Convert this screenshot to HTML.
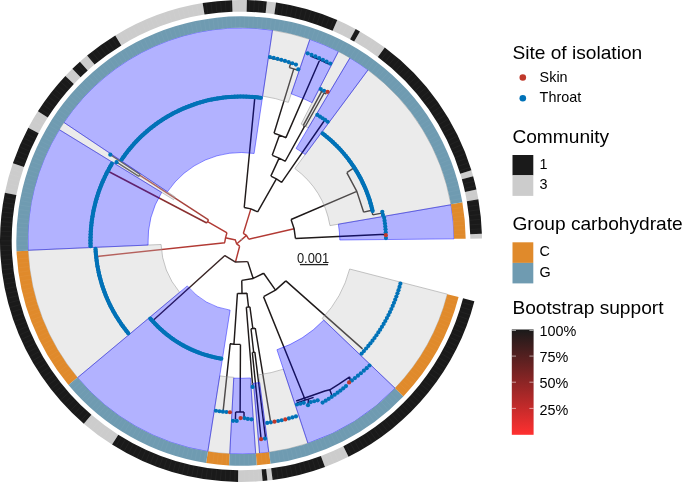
<!DOCTYPE html>
<html lang="en"><head><meta charset="utf-8"><title>Phylogenetic tree</title><style>html,body{margin:0;padding:0;background:#fff}svg{display:block}</style></head><body>
<svg width="685" height="482" viewBox="0 0 685 482">
<rect width="685" height="482" fill="#fff"/>
<g fill="none" stroke-width="1.45" stroke-linecap="butt" stroke-linejoin="round">
<path stroke="#b23a34" d="M236.56 244.07L246.54 235.37M243.32 233.45L246.47 235.44L248.7 239.24M243.32 233.45L250.88 208.89M248.7 239.24L294.12 228.83M235.21 239.87L236.72 243.95L239.65 246.12M235.71 239.92L225.22 237.79M226.91 232.8L225.52 237.85L224.69 242.74M227.09 232.9L207.55 221.53M224.99 242.71L96.82 256.41M239.63 246.22L235.49 261.99"/>
<path stroke="#8c8c8c" d="M240.95 240.24L242.34 239.02"/>
<path stroke="#1f1a1a" d="M257.65 211.81L250.88 208.89L244.22 207.55M244.22 207.55L254.71 98.66M257.65 211.81L276.38 178.98M281.65 182.3L276.38 178.98L270.84 176.13M281.65 182.3L324.11 120.97M270.84 176.13L279.11 158.14M285.49 161.39L279.11 158.14L272.34 155.35M285.21 161.23L304.51 126.42M305.11 126.76A131 131 0 0 0 303.21 125.71M303.21 125.71L321.73 91.39M305.11 126.76L324.2 92.75M326.39 94A170 170 0 0 0 324.2 92.75M323.24 92.21A170 170 0 0 0 320.02 90.48M272.19 155.3L279.55 135.1M286.12 137.73L279.55 135.1L274.04 133.25M285.94 137.65L319.79 59.79M328.86 64.01A197.6 197.6 0 0 0 310.52 56.03M274.04 133.25L293.78 68.91M297.97 70.25A180 180 0 0 0 289.41 67.63M289.41 67.63L290.83 62.53M296.1 64.08A185.3 185.3 0 0 0 269.8 57.95M295.44 238.43L294.12 228.83L291.06 219.44M295.44 238.43L385.84 234.17M385.99 238.98A145 145 0 0 0 384.13 217.82M291.09 219.53L356.81 191.36M363.67 212.23L356.81 191.36L346.79 172.56M346.79 172.56L353.93 167.94M363.65 212.12L371.82 210.2M372.74 214.91A134.3 134.3 0 0 0 371.7 210.1M372.74 214.91L381.77 213.13M372.35 210.68A134.8 134.8 0 0 0 322.5 133.63M247.71 261.64L253.18 278.47M241.76 280.39L253.18 278.47L263.66 273.24M263.66 273.24L275.5 290.09M263.57 296.59L275.5 290.09L285.87 280.84M285.87 280.84L362.52 348.89M263.48 296.63L305.06 399.55M241.76 280.39L242.01 293.49M237.52 293.38L242.01 293.49L246.94 293.16M237.43 293.38L233.97 344.16M230.01 343.81L233.97 344.16L240.37 344.4M230.19 343.83L223.07 411.56M240.46 344.4L240.1 412M235.63 411.92A171 171 0 0 0 243.98 411.97M235.63 411.92L235.41 418.91M243.98 411.97L244.08 417.27M246.94 293.16L248.53 307.07M246.33 307.29A66.5 66.5 0 0 0 249.91 306.9M246.33 307.29L252.71 386.53M249.91 306.9L252.83 328.5M251 328.73A88.3 88.3 0 0 0 255.12 328.16M251 328.73L253.68 352.28M252.32 352.43A112 112 0 0 0 254.84 352.14M252.32 352.43L261.01 437.99M254.84 352.14L265.47 437.48M255.27 328.14L270.57 421.59M296.2 401L312.8 395.3L324.8 391L329.8 389.8L338.5 384.3L349.7 376.8M296.9 402.9L313.6 397.4M329.8 389.8L331.8 395.3M349.7 376.8L350.3 381.1M308.6 398.9L307.9 404.5"/>
<path stroke="#b03c34" d="M208.54 219.92A38.7 38.7 0 0 0 206.74 223.01"/>
<path stroke="#a8433c" d="M208.54 219.92L139.6 175.15"/>
<path stroke="#444" d="M140.11 174.38A120.9 120.9 0 0 0 138.84 176.34M140.11 174.38L110.32 154.7M138.84 176.34L116.53 162.22"/>
<path stroke="#8a3030" d="M206.74 223.01L109.08 171.74"/>
<path stroke="#3a2626" d="M224.9 255.55L235.47 262.09L247.71 261.64M224.9 255.55L153.82 319.78"/>
</g>
<path d="M450.99 204.73A213.1 213.1 0 0 0 368.06 69.92L294.84 168.51A90.3 90.3 0 0 1 329.98 225.63ZM349.96 57.86A213.1 213.1 0 0 0 338.41 51.47L301.11 124.04A131.5 131.5 0 0 1 308.24 127.99ZM309.85 39.33A213.1 213.1 0 0 0 272.5 30.24L262.65 96.11A146.5 146.5 0 0 1 288.33 102.36ZM63.92 122.45A213.1 213.1 0 0 0 59.3 129.66L173.64 199.72A79 79 0 0 1 175.35 197.05ZM28.1 250.3A213.1 213.1 0 0 0 77.52 377.69L179.63 292.32A80 80 0 0 1 161.08 244.49ZM207.85 451.51A213.1 213.1 0 0 0 229.74 453.8L233.78 377.31A136.5 136.5 0 0 1 219.76 375.84ZM255.68 453.59A213.1 213.1 0 0 0 259.57 453.29L253.46 383.46A143 143 0 0 1 250.85 383.66ZM268.82 452.28A213.1 213.1 0 0 0 307.91 443.32L283.39 369.17A135 135 0 0 1 258.62 374.85ZM395.06 388.23A213.1 213.1 0 0 0 447.36 294.18L349.65 269A112.2 112.2 0 0 1 322.12 318.52Z" fill="rgb(190,190,190)" fill-opacity="0.3" stroke="#999999" stroke-opacity="0.8" stroke-width="0.7"/>
<path d="M454.09 238.86A213.1 213.1 0 0 0 450.99 204.73L338.36 224.18A98.8 98.8 0 0 1 339.8 240.01ZM368.06 69.92A213.1 213.1 0 0 0 349.96 57.86L296.07 148.44A107.7 107.7 0 0 1 305.21 154.54ZM338.41 51.47A213.1 213.1 0 0 0 309.85 39.33L291.24 93.84A155.5 155.5 0 0 1 312.08 102.7ZM272.5 30.24A213.1 213.1 0 0 0 63.92 122.45L167.46 191.77A88.5 88.5 0 0 1 254.08 153.47ZM59.3 129.66A213.1 213.1 0 0 0 28.1 250.3L148.09 245.06A93 93 0 0 1 161.7 192.41ZM77.52 377.69A213.1 213.1 0 0 0 207.85 451.51L230.11 310.15A70 70 0 0 1 187.3 285.9ZM229.74 453.8A213.1 213.1 0 0 0 255.68 453.59L250.46 377.97A137.3 137.3 0 0 1 233.74 378.11ZM259.57 453.29A213.1 213.1 0 0 0 268.82 452.28L259.64 382.58A142.8 142.8 0 0 1 253.45 383.26ZM307.91 443.32A213.1 213.1 0 0 0 395.06 388.23L323.78 320.11A114.5 114.5 0 0 1 276.95 349.71Z" fill="#0000ff" fill-opacity="0.3" stroke="#0000ff" stroke-opacity="0.55" stroke-width="0.8"/>
<path d="M372.65 211.09A135 135 0 0 0 322.62 133.47M260.86 97.87A144.5 144.5 0 0 0 121.63 159.57M111.86 163.71A150.5 150.5 0 0 0 90.59 246.25M95.51 248.88A145.7 145.7 0 0 0 128.25 333.28M150.28 318.48A119.3 119.3 0 0 0 221.31 358.66" fill="none" stroke="#0a6ea9" stroke-width="4"/>
<g fill="#0072b8"><circle cx="385.97" cy="238.09" r="2.1"/><circle cx="385.74" cy="232.27" r="2.1"/><circle cx="385.53" cy="229.37" r="2.1"/><circle cx="385.27" cy="226.47" r="2.1"/><circle cx="384.95" cy="223.58" r="2.1"/><circle cx="384.57" cy="220.69" r="2.1"/><circle cx="384.13" cy="217.82" r="2.1"/><circle cx="382.93" cy="214.95" r="2.1"/><circle cx="382.3" cy="211.74" r="2.1"/><circle cx="372.65" cy="211.09" r="2.1"/><circle cx="372.02" cy="208.47" r="2.1"/><circle cx="371.35" cy="205.86" r="2.1"/><circle cx="370.62" cy="203.27" r="2.1"/><circle cx="369.84" cy="200.69" r="2.1"/><circle cx="369.01" cy="198.13" r="2.1"/><circle cx="368.13" cy="195.59" r="2.1"/><circle cx="367.2" cy="193.06" r="2.1"/><circle cx="366.22" cy="190.55" r="2.1"/><circle cx="365.19" cy="188.07" r="2.1"/><circle cx="364.11" cy="185.6" r="2.1"/><circle cx="362.98" cy="183.15" r="2.1"/><circle cx="361.8" cy="180.73" r="2.1"/><circle cx="360.58" cy="178.34" r="2.1"/><circle cx="359.3" cy="175.96" r="2.1"/><circle cx="357.98" cy="173.62" r="2.1"/><circle cx="356.61" cy="171.3" r="2.1"/><circle cx="355.2" cy="169" r="2.1"/><circle cx="353.74" cy="166.74" r="2.1"/><circle cx="352.24" cy="164.51" r="2.1"/><circle cx="350.69" cy="162.3" r="2.1"/><circle cx="349.1" cy="160.13" r="2.1"/><circle cx="347.46" cy="157.99" r="2.1"/><circle cx="345.79" cy="155.88" r="2.1"/><circle cx="344.07" cy="153.81" r="2.1"/><circle cx="342.31" cy="151.77" r="2.1"/><circle cx="340.51" cy="149.77" r="2.1"/><circle cx="338.67" cy="147.8" r="2.1"/><circle cx="336.79" cy="145.87" r="2.1"/><circle cx="334.88" cy="143.98" r="2.1"/><circle cx="332.92" cy="142.13" r="2.1"/><circle cx="330.93" cy="140.32" r="2.1"/><circle cx="328.91" cy="138.54" r="2.1"/><circle cx="326.84" cy="136.81" r="2.1"/><circle cx="324.75" cy="135.12" r="2.1"/><circle cx="322.62" cy="133.47" r="2.1"/><circle cx="327.64" cy="121.75" r="2.1"/><circle cx="325.12" cy="119.96" r="2.1"/><circle cx="322.57" cy="118.23" r="2.1"/><circle cx="319.98" cy="116.55" r="2.1"/><circle cx="317.36" cy="114.92" r="2.1"/><circle cx="324.06" cy="90.73" r="2.1"/><circle cx="320.77" cy="89.07" r="2.1"/><circle cx="330.23" cy="63.58" r="2.1"/><circle cx="326.57" cy="61.67" r="2.1"/><circle cx="322.86" cy="59.84" r="2.1"/><circle cx="319.12" cy="58.08" r="2.1"/><circle cx="315.33" cy="56.4" r="2.1"/><circle cx="311.51" cy="54.8" r="2.1"/><circle cx="307.66" cy="53.28" r="2.1"/><circle cx="298.28" cy="69.3" r="2.1"/><circle cx="295.95" cy="64.56" r="2.1"/><circle cx="292.32" cy="63.26" r="2.1"/><circle cx="288.66" cy="62.04" r="2.1"/><circle cx="284.96" cy="60.89" r="2.1"/><circle cx="281.24" cy="59.82" r="2.1"/><circle cx="277.5" cy="58.82" r="2.1"/><circle cx="273.73" cy="57.9" r="2.1"/><circle cx="269.94" cy="57.06" r="2.1"/><circle cx="260.86" cy="97.87" r="2.1"/><circle cx="257.97" cy="97.5" r="2.1"/><circle cx="255.07" cy="97.19" r="2.1"/><circle cx="252.16" cy="96.93" r="2.1"/><circle cx="249.25" cy="96.74" r="2.1"/><circle cx="246.34" cy="96.6" r="2.1"/><circle cx="243.43" cy="96.52" r="2.1"/><circle cx="240.51" cy="96.5" r="2.1"/><circle cx="237.59" cy="96.54" r="2.1"/><circle cx="234.68" cy="96.64" r="2.1"/><circle cx="231.77" cy="96.8" r="2.1"/><circle cx="228.86" cy="97.01" r="2.1"/><circle cx="225.95" cy="97.29" r="2.1"/><circle cx="223.06" cy="97.62" r="2.1"/><circle cx="220.17" cy="98.01" r="2.1"/><circle cx="217.29" cy="98.46" r="2.1"/><circle cx="214.41" cy="98.97" r="2.1"/><circle cx="211.55" cy="99.53" r="2.1"/><circle cx="208.7" cy="100.16" r="2.1"/><circle cx="205.87" cy="100.84" r="2.1"/><circle cx="203.05" cy="101.57" r="2.1"/><circle cx="200.24" cy="102.37" r="2.1"/><circle cx="197.45" cy="103.22" r="2.1"/><circle cx="194.68" cy="104.13" r="2.1"/><circle cx="191.93" cy="105.09" r="2.1"/><circle cx="189.19" cy="106.11" r="2.1"/><circle cx="186.48" cy="107.18" r="2.1"/><circle cx="183.79" cy="108.31" r="2.1"/><circle cx="181.13" cy="109.49" r="2.1"/><circle cx="178.49" cy="110.72" r="2.1"/><circle cx="175.87" cy="112.01" r="2.1"/><circle cx="173.28" cy="113.35" r="2.1"/><circle cx="170.72" cy="114.74" r="2.1"/><circle cx="168.18" cy="116.19" r="2.1"/><circle cx="165.68" cy="117.68" r="2.1"/><circle cx="163.21" cy="119.23" r="2.1"/><circle cx="160.76" cy="120.82" r="2.1"/><circle cx="158.36" cy="122.47" r="2.1"/><circle cx="155.98" cy="124.16" r="2.1"/><circle cx="153.64" cy="125.9" r="2.1"/><circle cx="151.33" cy="127.69" r="2.1"/><circle cx="149.07" cy="129.52" r="2.1"/><circle cx="146.83" cy="131.4" r="2.1"/><circle cx="144.64" cy="133.32" r="2.1"/><circle cx="142.49" cy="135.28" r="2.1"/><circle cx="140.37" cy="137.29" r="2.1"/><circle cx="138.3" cy="139.35" r="2.1"/><circle cx="136.27" cy="141.44" r="2.1"/><circle cx="134.28" cy="143.57" r="2.1"/><circle cx="132.34" cy="145.75" r="2.1"/><circle cx="130.44" cy="147.96" r="2.1"/><circle cx="128.58" cy="150.21" r="2.1"/><circle cx="126.77" cy="152.5" r="2.1"/><circle cx="125.01" cy="154.82" r="2.1"/><circle cx="123.3" cy="157.18" r="2.1"/><circle cx="121.63" cy="159.57" r="2.1"/><circle cx="110.32" cy="154.7" r="2.1"/><circle cx="116.53" cy="162.22" r="2.1"/><circle cx="111.86" cy="163.71" r="2.1"/><circle cx="110.36" cy="166.28" r="2.1"/><circle cx="108.9" cy="168.89" r="2.1"/><circle cx="107.5" cy="171.51" r="2.1"/><circle cx="106.15" cy="174.17" r="2.1"/><circle cx="104.85" cy="176.85" r="2.1"/><circle cx="103.61" cy="179.56" r="2.1"/><circle cx="102.42" cy="182.3" r="2.1"/><circle cx="101.29" cy="185.05" r="2.1"/><circle cx="100.21" cy="187.83" r="2.1"/><circle cx="99.18" cy="190.63" r="2.1"/><circle cx="98.21" cy="193.44" r="2.1"/><circle cx="97.3" cy="196.28" r="2.1"/><circle cx="96.44" cy="199.13" r="2.1"/><circle cx="95.64" cy="202" r="2.1"/><circle cx="94.9" cy="204.89" r="2.1"/><circle cx="94.21" cy="207.79" r="2.1"/><circle cx="93.58" cy="210.7" r="2.1"/><circle cx="93.01" cy="213.63" r="2.1"/><circle cx="92.5" cy="216.56" r="2.1"/><circle cx="92.04" cy="219.51" r="2.1"/><circle cx="91.65" cy="222.46" r="2.1"/><circle cx="91.31" cy="225.42" r="2.1"/><circle cx="91.03" cy="228.39" r="2.1"/><circle cx="90.81" cy="231.36" r="2.1"/><circle cx="90.65" cy="234.34" r="2.1"/><circle cx="90.55" cy="237.31" r="2.1"/><circle cx="90.5" cy="240.29" r="2.1"/><circle cx="90.52" cy="243.27" r="2.1"/><circle cx="90.59" cy="246.25" r="2.1"/><circle cx="95.51" cy="248.88" r="2.1"/><circle cx="95.7" cy="251.84" r="2.1"/><circle cx="95.96" cy="254.8" r="2.1"/><circle cx="96.27" cy="257.75" r="2.1"/><circle cx="96.64" cy="260.7" r="2.1"/><circle cx="97.07" cy="263.64" r="2.1"/><circle cx="97.56" cy="266.57" r="2.1"/><circle cx="98.11" cy="269.48" r="2.1"/><circle cx="98.72" cy="272.39" r="2.1"/><circle cx="99.39" cy="275.28" r="2.1"/><circle cx="100.12" cy="278.16" r="2.1"/><circle cx="100.91" cy="281.03" r="2.1"/><circle cx="101.75" cy="283.87" r="2.1"/><circle cx="102.65" cy="286.7" r="2.1"/><circle cx="103.61" cy="289.51" r="2.1"/><circle cx="104.63" cy="292.3" r="2.1"/><circle cx="105.7" cy="295.07" r="2.1"/><circle cx="106.83" cy="297.82" r="2.1"/><circle cx="108.02" cy="300.54" r="2.1"/><circle cx="109.26" cy="303.24" r="2.1"/><circle cx="110.56" cy="305.91" r="2.1"/><circle cx="111.91" cy="308.55" r="2.1"/><circle cx="113.31" cy="311.17" r="2.1"/><circle cx="114.77" cy="313.76" r="2.1"/><circle cx="116.28" cy="316.32" r="2.1"/><circle cx="117.84" cy="318.84" r="2.1"/><circle cx="119.45" cy="321.34" r="2.1"/><circle cx="121.11" cy="323.8" r="2.1"/><circle cx="122.82" cy="326.22" r="2.1"/><circle cx="124.58" cy="328.61" r="2.1"/><circle cx="126.39" cy="330.97" r="2.1"/><circle cx="128.25" cy="333.28" r="2.1"/><circle cx="150.28" cy="318.48" r="2.1"/><circle cx="151.85" cy="320.27" r="2.1"/><circle cx="153.45" cy="322.04" r="2.1"/><circle cx="155.08" cy="323.77" r="2.1"/><circle cx="156.75" cy="325.46" r="2.1"/><circle cx="158.45" cy="327.13" r="2.1"/><circle cx="160.18" cy="328.76" r="2.1"/><circle cx="161.95" cy="330.35" r="2.1"/><circle cx="163.75" cy="331.91" r="2.1"/><circle cx="165.58" cy="333.43" r="2.1"/><circle cx="167.43" cy="334.92" r="2.1"/><circle cx="169.32" cy="336.37" r="2.1"/><circle cx="171.24" cy="337.78" r="2.1"/><circle cx="173.18" cy="339.15" r="2.1"/><circle cx="175.15" cy="340.48" r="2.1"/><circle cx="177.15" cy="341.78" r="2.1"/><circle cx="179.17" cy="343.03" r="2.1"/><circle cx="181.22" cy="344.24" r="2.1"/><circle cx="183.29" cy="345.41" r="2.1"/><circle cx="185.39" cy="346.54" r="2.1"/><circle cx="187.5" cy="347.63" r="2.1"/><circle cx="189.64" cy="348.68" r="2.1"/><circle cx="191.8" cy="349.68" r="2.1"/><circle cx="193.98" cy="350.64" r="2.1"/><circle cx="196.17" cy="351.56" r="2.1"/><circle cx="198.39" cy="352.43" r="2.1"/><circle cx="200.62" cy="353.26" r="2.1"/><circle cx="202.86" cy="354.04" r="2.1"/><circle cx="205.13" cy="354.78" r="2.1"/><circle cx="207.4" cy="355.47" r="2.1"/><circle cx="209.69" cy="356.12" r="2.1"/><circle cx="211.99" cy="356.72" r="2.1"/><circle cx="214.31" cy="357.28" r="2.1"/><circle cx="216.63" cy="357.78" r="2.1"/><circle cx="218.97" cy="358.25" r="2.1"/><circle cx="221.31" cy="358.66" r="2.1"/><circle cx="215.93" cy="410.76" r="2.1"/><circle cx="219.42" cy="411.24" r="2.1"/><circle cx="222.91" cy="411.64" r="2.1"/><circle cx="226.42" cy="411.98" r="2.1"/><circle cx="233.09" cy="420.83" r="2.1"/><circle cx="236.7" cy="420.95" r="2.1"/><circle cx="244.4" cy="418.07" r="2.1"/><circle cx="247.84" cy="418.97" r="2.1"/><circle cx="251.47" cy="419.29" r="2.1"/><circle cx="252.61" cy="386.94" r="2.1"/><circle cx="265.01" cy="438.55" r="2.1"/><circle cx="267.22" cy="422.92" r="2.1"/><circle cx="270.86" cy="422.36" r="2.1"/><circle cx="278.12" cy="421.01" r="2.1"/><circle cx="281.72" cy="420.23" r="2.1"/><circle cx="288.88" cy="418.45" r="2.1"/><circle cx="292.43" cy="417.46" r="2.1"/><circle cx="295.96" cy="416.39" r="2.1"/><circle cx="296.97" cy="404.48" r="2.1"/><circle cx="300.38" cy="403.7" r="2.1"/><circle cx="303.78" cy="402.85" r="2.1"/><circle cx="307.99" cy="405.16" r="2.1"/><circle cx="310.7" cy="402.07" r="2.1"/><circle cx="314.19" cy="401.23" r="2.1"/><circle cx="317.67" cy="400.31" r="2.1"/><circle cx="322.61" cy="402.56" r="2.1"/><circle cx="325.69" cy="400.7" r="2.1"/><circle cx="328.73" cy="398.78" r="2.1"/><circle cx="331.72" cy="396.8" r="2.1"/><circle cx="334.67" cy="394.76" r="2.1"/><circle cx="337.58" cy="392.67" r="2.1"/><circle cx="340.44" cy="390.53" r="2.1"/><circle cx="343.25" cy="388.33" r="2.1"/><circle cx="346.02" cy="386.08" r="2.1"/><circle cx="351.87" cy="380.38" r="2.1"/><circle cx="354.93" cy="378.07" r="2.1"/><circle cx="357.94" cy="375.68" r="2.1"/><circle cx="360.9" cy="373.23" r="2.1"/><circle cx="363.81" cy="370.72" r="2.1"/><circle cx="366.67" cy="368.14" r="2.1"/><circle cx="369.47" cy="365.5" r="2.1"/><circle cx="361.67" cy="353.53" r="2.1"/><circle cx="363.94" cy="351.05" r="2.1"/><circle cx="366.15" cy="348.52" r="2.1"/><circle cx="368.32" cy="345.95" r="2.1"/><circle cx="370.43" cy="343.34" r="2.1"/><circle cx="372.49" cy="340.68" r="2.1"/><circle cx="374.49" cy="337.98" r="2.1"/><circle cx="376.43" cy="335.25" r="2.1"/><circle cx="378.33" cy="332.47" r="2.1"/><circle cx="380.16" cy="329.65" r="2.1"/><circle cx="381.94" cy="326.8" r="2.1"/><circle cx="383.65" cy="323.92" r="2.1"/><circle cx="385.31" cy="320.99" r="2.1"/><circle cx="386.91" cy="318.04" r="2.1"/><circle cx="388.45" cy="315.05" r="2.1"/><circle cx="389.93" cy="312.03" r="2.1"/><circle cx="391.34" cy="308.99" r="2.1"/><circle cx="392.7" cy="305.91" r="2.1"/><circle cx="393.99" cy="302.81" r="2.1"/><circle cx="395.21" cy="299.68" r="2.1"/><circle cx="396.37" cy="296.53" r="2.1"/><circle cx="397.47" cy="293.36" r="2.1"/><circle cx="398.51" cy="290.16" r="2.1"/><circle cx="399.48" cy="286.94" r="2.1"/><circle cx="400.38" cy="283.71" r="2.1"/></g>
<g fill="#c0392b"><circle cx="385.88" cy="235.18" r="2.1"/><circle cx="327.64" cy="91.84" r="2.1"/><circle cx="229.93" cy="412.24" r="2.1"/><circle cx="240.6" cy="418.1" r="2.1"/><circle cx="261.1" cy="439.18" r="2.1"/><circle cx="274.49" cy="421.72" r="2.1"/><circle cx="285.31" cy="419.38" r="2.1"/><circle cx="349.11" cy="382.41" r="2.1"/></g>
<path d="M465.69 238.75A224.7 224.7 0 0 0 462.35 202.37L450.93 204.36A213.1 213.1 0 0 1 454.09 238.86ZM16.53 251.19A224.7 224.7 0 0 0 68.49 384.98L77.4 377.55A213.1 213.1 0 0 1 28.12 250.67ZM206.12 462.98A224.7 224.7 0 0 0 229.12 465.39L229.74 453.8A213.1 213.1 0 0 1 207.92 451.52ZM256.67 465.15A224.7 224.7 0 0 0 270.56 463.75L269.04 452.25A213.1 213.1 0 0 1 255.87 453.58ZM403.32 396.38A224.7 224.7 0 0 0 458.59 297.07L447.36 294.18A213.1 213.1 0 0 1 394.94 388.36Z" fill="#e08a2b"/>
<path d="M462.35 202.37A224.7 224.7 0 0 0 16.53 251.19L28.12 250.67A213.1 213.1 0 0 1 450.93 204.36ZM68.49 384.98A224.7 224.7 0 0 0 206.12 462.98L207.92 451.52A213.1 213.1 0 0 1 77.4 377.55ZM229.12 465.39A224.7 224.7 0 0 0 256.67 465.15L255.87 453.58A213.1 213.1 0 0 1 229.74 453.8ZM270.56 463.75A224.7 224.7 0 0 0 403.32 396.38L394.94 388.36A213.1 213.1 0 0 1 269.04 452.25Z" fill="#6f9bb1"/>
<path d="M481.99 238.58A241 241 0 0 0 481.89 233.85L470.2 234.2A229.3 229.3 0 0 1 470.29 238.7ZM478.34 199.15A241 241 0 0 0 476.44 189.54L465.01 192.03A229.3 229.3 0 0 1 466.82 201.18ZM473.12 176.19A241 241 0 0 0 471.41 170.34L460.22 173.77A229.3 229.3 0 0 1 461.85 179.34ZM384.79 47.6A241 241 0 0 0 359.97 31.41L354.19 41.59A229.3 229.3 0 0 1 377.81 56.99ZM355.63 29A241 241 0 0 0 337.29 20.07L332.62 30.8A229.3 229.3 0 0 1 350.06 39.3ZM276.04 2.56A241 241 0 0 0 266.86 1.39L265.61 13.02A229.3 229.3 0 0 1 274.34 14.14ZM246.89 0.07A241 241 0 0 0 232.08 0.16L232.52 11.86A229.3 229.3 0 0 1 246.6 11.77ZM202.63 3.07A241 241 0 0 0 115.26 35.4L121.36 45.39A229.3 229.3 0 0 1 204.5 14.62ZM87.09 55.55A241 241 0 0 0 79.93 61.73L87.75 70.44A229.3 229.3 0 0 1 94.56 64.55ZM72.38 68.81A241 241 0 0 0 65.35 75.99L73.87 84A229.3 229.3 0 0 1 80.57 77.17ZM37.88 111.3A241 241 0 0 0 28.29 127.71L38.62 133.21A229.3 229.3 0 0 1 47.74 117.59ZM12.87 163.29A241 241 0 0 0 4.89 192.71L16.35 195.05A229.3 229.3 0 0 1 23.95 167.07ZM83.81 423.68A241 241 0 0 0 112.04 444.6L118.3 434.71A229.3 229.3 0 0 1 91.44 414.81ZM238.06 481.98A241 241 0 0 0 262.63 481.03L261.58 469.37A229.3 229.3 0 0 1 238.2 470.28ZM267.45 480.54A241 241 0 0 0 272.62 479.92L271.09 468.32A229.3 229.3 0 0 1 266.16 468.92ZM325.01 466.88A241 241 0 0 0 348.53 456.68L343.31 446.21A229.3 229.3 0 0 1 320.93 455.92Z" fill="#cccccc"/>
<path d="M481.89 233.85A241 241 0 0 0 478.34 199.15L466.82 201.18A229.3 229.3 0 0 1 470.2 234.2ZM476.44 189.54A241 241 0 0 0 473.12 176.19L461.85 179.34A229.3 229.3 0 0 1 465.01 192.03ZM471.41 170.34A241 241 0 0 0 384.79 47.6L377.81 56.99A229.3 229.3 0 0 1 460.22 173.77ZM359.97 31.41A241 241 0 0 0 355.63 29L350.06 39.3A229.3 229.3 0 0 1 354.19 41.59ZM337.29 20.07A241 241 0 0 0 276.04 2.56L274.34 14.14A229.3 229.3 0 0 1 332.62 30.8ZM266.86 1.39A241 241 0 0 0 246.89 0.07L246.6 11.77A229.3 229.3 0 0 1 265.61 13.02ZM232.08 0.16A241 241 0 0 0 202.63 3.07L204.5 14.62A229.3 229.3 0 0 1 232.52 11.86ZM115.26 35.4A241 241 0 0 0 87.09 55.55L94.56 64.55A229.3 229.3 0 0 1 121.36 45.39ZM79.93 61.73A241 241 0 0 0 72.38 68.81L80.57 77.17A229.3 229.3 0 0 1 87.75 70.44ZM65.35 75.99A241 241 0 0 0 37.88 111.3L47.74 117.59A229.3 229.3 0 0 1 73.87 84ZM28.29 127.71A241 241 0 0 0 12.87 163.29L23.95 167.07A229.3 229.3 0 0 1 38.62 133.21ZM4.89 192.71A241 241 0 0 0 83.81 423.68L91.44 414.81A229.3 229.3 0 0 1 16.35 195.05ZM112.04 444.6A241 241 0 0 0 238.06 481.98L238.2 470.28A229.3 229.3 0 0 1 118.3 434.71ZM262.63 481.03A241 241 0 0 0 267.45 480.54L266.16 468.92A229.3 229.3 0 0 1 261.58 469.37ZM272.62 479.92A241 241 0 0 0 325.01 466.88L320.93 455.92A229.3 229.3 0 0 1 271.09 468.32ZM348.53 456.68A241 241 0 0 0 474.38 301.14L463.05 298.22A229.3 229.3 0 0 1 343.31 446.21Z" fill="#1a1a1a"/>
<path d="M454.4 234.57L465.2 234.25M470.6 234.09L481.49 233.76M454.23 230.29L465.02 229.75M470.41 229.48L481.3 228.93M453.97 226.01L464.75 225.26M470.13 224.88L481.01 224.11M453.63 221.74L464.39 220.77M469.76 220.28L480.62 219.3M453.2 217.48L463.93 216.29M469.3 215.69L480.14 214.49M452.69 213.23L463.39 211.82M468.75 211.12L479.56 209.7M452.09 208.98L462.76 207.36M468.1 206.55L478.88 204.92M451.4 204.75L462.04 202.92M467.37 202L478.11 200.15M450.63 200.54L461.23 198.49M466.54 197.47L477.24 195.4M449.78 196.34L460.34 194.08M465.62 192.95L476.28 190.67M448.84 192.16L459.35 189.69M464.61 188.45L475.22 185.96M447.82 187.99L458.28 185.31M463.51 183.97L474.07 181.27M446.71 183.85L457.12 180.96M462.32 179.52L472.82 176.6M445.52 179.74L455.87 176.64M461.04 175.09L471.48 171.96M444.25 175.65L454.53 172.34M459.67 170.69L470.05 167.35M442.9 171.58L453.11 168.07M458.22 166.31L468.53 162.77M441.46 167.54L451.61 163.83M456.68 161.97L466.91 158.22M439.95 163.53L450.01 159.61M455.05 157.65L465.2 153.7M438.36 159.56L448.34 155.44M453.33 153.38L463.41 149.22M436.68 155.61L446.58 151.29M451.53 149.13L461.52 144.77M434.93 151.7L444.74 147.18M449.64 144.92L459.54 140.37M433.1 147.83L442.81 143.11M447.67 140.76L457.48 136M431.19 143.99L440.81 139.08M445.62 136.63L455.33 131.68M429.2 140.19L438.72 135.09M443.48 132.54L453.09 127.4M427.14 136.44L436.56 131.15M441.27 128.5L450.77 123.16M425.01 132.72L434.31 127.24M438.97 124.5L448.36 118.98M422.79 129.05L431.99 123.39M436.59 120.56L445.87 114.84M420.51 125.42L429.59 119.58M434.13 116.65L443.3 110.75M418.16 121.84L427.12 115.82M431.6 112.8L440.64 106.72M415.73 118.31L424.57 112.11M428.99 109L437.91 102.74M413.23 114.83L421.94 108.45M426.3 105.26L435.09 98.82M410.66 111.4L419.25 104.84M423.54 101.57L432.2 94.95M408.03 108.02L416.48 101.29M420.7 97.93L429.23 91.14M405.33 104.69L413.64 97.8M417.8 94.35L426.18 87.39M402.56 101.42L410.73 94.36M414.82 90.83L423.06 83.71M399.72 98.21L407.75 90.99M411.77 87.38L419.87 80.09M396.83 95.05L404.71 87.67M408.65 83.98L416.61 76.53M393.87 91.96L401.6 84.42M405.46 80.65L413.27 73.04M390.84 88.92L398.42 81.22M402.21 77.38L409.86 69.61M387.76 85.94L395.18 78.1M398.9 74.17L406.39 66.26M384.62 83.03L391.88 75.03M395.52 71.04L402.85 62.97M381.42 80.18L388.52 72.04M392.07 67.97L399.24 59.76M378.16 77.39L385.1 69.11M388.57 64.98L395.57 56.62M374.85 74.67L381.62 66.26M385.01 62.05L391.84 53.56M371.49 72.02L378.09 63.47M381.39 59.19L388.05 50.57M368.07 69.43L374.5 60.75M377.71 56.41L384.2 47.65M364.6 66.92L370.85 58.11M373.98 53.71L380.29 44.82M361.08 64.47L367.16 55.54M370.19 51.08L376.32 42.06M357.51 62.1L363.41 53.05M366.36 48.52L372.3 39.39M353.9 59.79L359.61 50.63M362.47 46.04L368.23 36.79M350.24 57.56L355.77 48.29M358.53 43.65L364.11 34.28M346.54 55.41L351.88 46.02M354.55 41.33L359.93 31.85M342.79 53.33L347.94 43.83M350.52 39.09L355.71 29.51M339 51.32L343.96 41.73M346.44 36.93L351.44 27.25M335.18 49.39L339.94 39.7M342.32 34.86L347.13 25.07M331.31 47.54L335.88 37.76M338.17 32.86L342.78 22.99M327.41 45.77L331.78 35.89M333.97 30.96L338.38 20.99M323.48 44.07L327.65 34.11M329.74 29.13L333.95 19.08M319.51 42.46L323.48 32.42M325.47 27.39L329.47 17.26M315.51 40.92L319.28 30.8M321.16 25.74L324.96 15.53M311.48 39.47L315.04 29.27M316.82 24.18L320.42 13.89M307.42 38.09L310.78 27.83M312.46 22.7L315.85 12.34M303.33 36.8L306.49 26.47M308.06 21.31L311.24 10.88M299.22 35.59L302.17 25.2M303.64 20.01L306.61 9.52M295.09 34.46L297.82 24.02M299.19 18.79L301.95 8.25M290.93 33.42L293.46 22.92M294.72 17.67L297.27 7.07M286.76 32.46L289.07 21.91M290.23 16.64L292.56 5.99M282.56 31.58L284.66 20.99M285.71 15.69L287.84 5M278.35 30.79L280.24 20.16M281.18 14.84L283.09 4.11M274.12 30.09L275.8 19.42M276.64 14.08L278.33 3.31M269.88 29.46L271.34 18.76M272.07 13.41L273.55 2.61M265.63 28.93L266.88 18.2M267.5 12.83L268.76 2.01M261.37 28.47L262.4 17.72M262.92 12.35L263.96 1.5M257.1 28.11L257.92 17.34M258.32 11.95L259.14 1.09M252.82 27.83L253.42 17.04M253.72 11.65L254.33 0.77M248.54 27.63L248.93 16.84M249.12 11.44L249.5 0.55M244.26 27.52L244.43 16.73M244.51 11.33L244.67 0.43M239.98 27.5L239.92 16.7M239.9 11.3L239.85 0.4M235.69 27.57L235.42 16.77M235.29 11.37L235.02 0.47M231.41 27.72L230.92 16.93M230.68 11.53L230.19 0.64M227.13 27.95L226.43 17.17M226.08 11.79L225.37 0.91M222.86 28.27L221.94 17.51M221.48 12.13L220.55 1.27M218.59 28.68L217.46 17.94M216.89 12.57L215.75 1.73M214.33 29.17L212.98 18.46M212.31 13.1L210.95 2.28M210.09 29.75L208.52 19.06M207.74 13.72L206.16 2.94M205.85 30.41L204.08 19.76M203.19 14.43L201.39 3.68M201.63 31.16L199.64 20.55M198.65 15.24L196.64 4.53M197.43 31.99L195.23 21.42M194.13 16.13L191.9 5.46M193.25 32.91L190.83 22.38M189.62 17.12L187.18 6.5M189.08 33.91L186.45 23.43M185.14 18.2L182.49 7.62M184.93 34.99L182.1 24.57M180.68 19.36L177.82 8.84M180.81 36.16L177.76 25.8M176.24 20.62L173.17 10.16M176.71 37.41L173.46 27.11M171.83 21.96L168.55 11.57M172.64 38.74L169.18 28.51M167.45 23.39L163.96 13.07M168.59 40.15L164.93 29.99M163.1 24.91L159.4 14.66M164.58 41.65L160.71 31.56M158.78 26.52L154.87 16.34M160.59 43.22L156.52 33.22M154.49 28.21L150.38 18.12M156.64 44.87L152.37 34.95M150.24 29.99L145.93 19.98M152.72 46.61L148.25 36.77M146.02 31.86L141.51 21.93M148.83 48.42L144.17 38.68M141.84 33.81L137.13 23.97M144.99 50.31L140.13 40.66M137.7 35.84L132.8 26.1M141.18 52.27L136.13 42.73M133.61 37.95L128.51 28.32M137.41 54.31L132.17 44.87M129.55 40.15L124.26 30.62M133.69 56.43L128.26 47.09M125.54 42.43L120.06 33M130 58.62L124.39 49.4M121.58 44.78L115.91 35.47M126.37 60.89L120.57 51.77M117.67 47.22L111.81 38.02M122.77 63.22L116.79 54.23M113.8 49.73L107.77 40.66M119.23 65.63L113.07 56.76M109.99 52.32L103.77 43.37M115.73 68.11L109.4 59.37M106.23 54.99L99.83 46.17M112.29 70.66L105.78 62.04M102.52 57.73L95.95 49.04M108.9 73.28L102.21 64.79M98.87 60.55L92.13 51.99M105.56 75.96L98.71 67.61M95.28 63.44L88.36 55.01M102.27 78.71L95.25 70.5M91.75 66.4L84.66 58.11M99.04 81.53L91.86 73.46M88.27 69.43L81.02 61.29M95.87 84.41L88.53 76.49M84.86 72.53L77.45 64.54M92.76 87.36L85.26 79.58M81.51 75.7L73.94 67.85M89.7 90.36L82.05 82.74M78.22 78.93L70.5 71.24M86.71 93.43L78.91 85.96M75 82.23L67.13 74.7M83.78 96.56L75.83 89.25M71.85 85.6L63.82 78.22M80.91 99.74L72.81 92.59M68.77 89.02L60.59 81.81M78.11 102.98L69.87 96M65.75 92.51L57.43 85.46M75.37 106.28L66.99 99.46M62.81 96.06L54.35 89.18M72.7 109.63L64.19 102.98M59.93 99.66L51.34 92.95M70.1 113.03L61.45 106.56M57.13 103.32L48.41 96.79M67.57 116.49L58.79 110.19M54.41 107.04L45.55 100.69M65.1 120L56.2 113.87M51.76 110.81L42.77 104.64M62.71 123.55L53.69 117.61M49.18 114.64L40.08 108.64M60.39 127.15L51.25 121.39M46.68 118.51L37.46 112.7M58.14 130.8L48.89 125.23M44.26 122.44L34.93 116.81M55.96 134.49L46.6 129.1M41.92 126.41L32.48 120.97M53.86 138.23L44.4 133.03M39.66 130.43L30.11 125.18M51.84 142L42.27 137M37.49 134.49L27.83 129.44M49.89 145.82L40.22 141.01M35.39 138.6L25.63 133.74M48.02 149.67L38.26 145.06M33.38 142.75L23.52 138.08M46.22 153.57L36.37 149.14M31.44 146.93L21.5 142.47M44.51 157.49L34.57 153.27M29.6 151.16L19.57 146.89M42.87 161.45L32.85 157.43M27.84 155.42L17.72 151.36M41.32 165.45L31.21 161.62M26.16 159.71L15.97 155.86M39.84 169.47L29.66 165.85M24.58 164.04L14.31 160.39M38.44 173.52L28.2 170.11M23.07 168.4L12.73 164.96M37.13 177.6L26.82 174.39M21.66 172.79L11.25 169.55M35.9 181.7L25.52 178.7M20.34 177.2L9.87 174.18M34.75 185.83L24.32 183.04M19.1 181.65L8.57 178.83M33.69 189.98L23.2 187.4M17.95 186.11L7.37 183.51M32.7 194.15L22.17 191.78M16.9 190.6L6.26 188.21M31.8 198.34L21.22 196.19M15.93 195.11L5.25 192.93M30.99 202.55L20.37 200.61M15.06 199.63L4.33 197.67M30.26 206.77L19.6 205.04M14.27 204.18L3.51 202.43M29.62 211.01L18.92 209.49M13.58 208.73L2.79 207.2M29.06 215.26L18.34 213.96M12.98 213.31L2.16 211.99M28.58 219.52L17.84 218.43M12.47 217.89L1.62 216.79M28.2 223.78L17.43 222.91M12.05 222.48L1.18 221.6M27.89 228.06L17.11 227.4M11.72 227.08L0.84 226.42M27.68 232.34L16.88 231.9M11.49 231.68L0.6 231.24M27.54 236.62L16.75 236.4M11.35 236.29L0.45 236.07M27.5 240.91L16.7 240.9M11.3 240.9L0.4 240.9M27.54 245.19L16.74 245.4M11.34 245.51L0.45 245.72M27.67 249.48L16.88 249.9M11.48 250.12L0.59 250.55M27.88 253.75L17.1 254.4M11.71 254.72L0.83 255.37M28.18 258.03L17.41 258.89M12.03 259.32L1.17 260.19M28.56 262.3L17.82 263.37M12.45 263.91L1.6 265M29.04 266.56L18.31 267.85M12.95 268.5L2.13 269.8M29.59 270.81L18.9 272.31M13.55 273.07L2.76 274.59M30.23 275.04L19.57 276.76M14.24 277.63L3.48 279.36M30.96 279.27L20.33 281.2M15.02 282.17L4.3 284.12M31.77 283.47L21.18 285.62M15.89 286.7L5.21 288.87M32.66 287.66L22.12 290.03M16.85 291.21L6.22 293.59M33.64 291.84L23.15 294.41M17.91 295.69L7.32 298.29M34.7 295.99L24.27 298.77M19.05 300.16L8.52 302.97M35.85 300.12L25.47 303.11M20.28 304.6L9.81 307.62M37.08 304.22L26.76 307.42M21.6 309.02L11.19 312.25M38.39 308.3L28.14 311.71M23.01 313.41L12.67 316.85M39.78 312.36L29.6 315.97M24.51 317.77L14.24 321.41M41.25 316.38L31.15 320.19M26.09 322.1L15.9 325.95M42.8 320.37L32.78 324.39M27.76 326.4L17.65 330.45M44.44 324.34L34.49 328.55M29.52 330.66L19.49 334.91M46.15 328.26L36.29 332.68M31.36 334.88L21.41 339.34M47.94 332.16L38.17 336.77M33.29 339.07L23.43 343.73M49.81 336.01L40.14 340.82M35.3 343.22L25.54 348.07M51.75 339.83L42.18 344.83M37.39 347.33L27.73 352.38M53.77 343.61L44.3 348.8M39.57 351.4L30.01 356.63M55.87 347.35L46.51 352.73M41.82 355.42L32.37 360.85M58.04 351.04L48.79 356.61M44.16 359.39L34.82 365.01M60.29 354.69L51.15 360.44M46.58 363.32L37.35 369.12M62.61 358.29L53.58 364.23M49.07 367.19L39.96 373.18M65 361.85L56.09 367.96M51.64 371.02L42.66 377.19M67.46 365.36L58.68 371.65M54.29 374.8L45.43 381.14M69.99 368.82L61.34 375.28M57.01 378.52L48.28 385.04M72.59 372.22L64.07 378.86M59.81 382.18L51.21 388.88M75.26 375.58L66.87 382.38M62.68 385.79L54.22 392.66M77.99 378.88L69.74 385.85M65.62 389.34L57.3 396.38M80.79 382.12L72.69 389.26M68.63 392.83L60.45 400.03M83.65 385.31L75.69 392.61M71.72 396.26L63.68 403.62M86.58 388.44L78.77 395.89M74.87 399.62L66.98 407.15M89.57 391.51L81.91 399.12M78.08 402.93L70.35 410.61M92.62 394.51L85.12 402.28M81.36 406.16L73.79 414M95.73 397.46L88.39 405.38M84.71 409.33L77.3 417.32M98.9 400.35L91.72 408.41M88.12 412.44L80.87 420.57M102.13 403.17L95.11 411.37M91.59 415.47L84.5 423.75M105.41 405.92L98.55 414.26M95.12 418.43L88.2 426.85M108.75 408.61L102.06 417.09M98.72 421.33L91.96 429.88M112.14 411.23L105.62 419.84M102.36 424.14L95.78 432.84M115.58 413.78L109.24 422.52M106.07 426.89L99.66 435.71M119.08 416.26L112.91 425.13M109.82 429.56L103.6 438.51M122.62 418.67L116.63 427.66M113.64 432.16L107.59 441.23M126.21 421.01L120.4 430.12M117.5 434.67L111.64 443.86M129.84 423.28L124.22 432.5M121.41 437.11L115.73 446.42M133.52 425.48L128.09 434.81M125.37 439.47L119.88 448.89M137.25 427.6L132 437.03M129.38 441.75L124.08 451.28M141.01 429.64L135.96 439.18M133.43 443.95L128.32 453.58M144.82 431.61L139.96 441.25M137.52 446.07L132.61 455.8M148.67 433.5L143.99 443.24M141.66 448.11L136.95 457.94M152.55 435.32L148.07 445.14M145.84 450.06L141.32 459.98M156.47 437.05L152.19 446.97M150.05 451.93L145.74 461.94M160.42 438.71L156.34 448.71M154.3 453.71L150.19 463.8M164.4 440.29L160.53 450.37M158.59 455.41L154.68 465.58M168.42 441.78L164.74 451.94M162.91 457.02L159.2 467.27M172.46 443.2L168.99 453.43M167.26 458.54L163.76 468.87M176.53 444.53L173.27 454.83M171.64 459.98L168.35 470.37M180.63 445.79L177.58 456.15M176.05 461.33L172.97 471.78M184.75 446.96L181.91 457.38M180.49 462.59L177.61 473.1M188.9 448.04L186.26 458.52M184.94 463.76L182.28 474.33M193.06 449.05L190.64 459.57M189.43 464.84L186.98 475.46M197.25 449.97L195.04 460.54M193.93 465.83L191.7 476.49M201.45 450.81L199.45 461.42M198.45 466.72L196.43 477.44M205.67 451.56L203.88 462.21M202.99 467.53L201.19 478.28M209.9 452.22L208.33 462.91M207.54 468.25L205.96 479.03M214.15 452.8L212.79 463.52M212.11 468.88L210.74 479.69M218.41 453.3L217.26 464.04M216.69 469.41L215.54 480.25M222.67 453.71L221.74 464.47M221.28 469.85L220.34 480.71M226.94 454.04L226.23 464.81M225.88 470.2L225.16 481.08M231.22 454.28L230.73 465.06M230.48 470.46L229.98 481.35M235.5 454.43L235.23 465.23M235.09 470.62L234.81 481.52M239.79 454.5L239.73 465.3M239.7 470.7L239.64 481.6M244.07 454.48L244.23 465.28M244.31 470.68L244.46 481.58M248.36 454.37L248.73 465.17M248.92 470.56L249.29 481.46M252.64 454.18L253.23 464.97M253.52 470.36L254.12 481.24M256.92 453.91L257.72 464.68M258.12 470.06L258.94 480.93M261.18 453.54L262.21 464.3M262.72 469.67L263.75 480.52M265.45 453.1L266.68 463.82M267.3 469.19L268.55 480.02M269.7 452.56L271.15 463.26M271.88 468.62L273.34 479.42M273.94 451.94L275.6 462.61M276.44 467.95L278.12 478.72M278.17 451.24L280.05 461.88M280.99 467.19L282.88 477.93M282.38 450.45L284.47 461.05M285.52 466.34L287.63 477.04M286.57 449.58L288.88 460.13M290.03 465.41L292.36 476.05M290.75 448.62L293.27 459.13M294.52 464.38L297.06 474.98M294.91 447.58L297.63 458.03M299 463.26L301.75 473.8M299.04 446.46L301.98 456.85M303.45 462.05L306.41 472.54M303.15 445.25L306.3 455.58M307.87 460.75L311.04 471.18M307.24 443.96L310.59 454.23M312.27 459.36L315.65 469.73M311.3 442.59L314.86 452.79M316.64 457.89L320.22 468.18M315.33 441.14L319.09 451.27M320.97 456.33L324.77 466.55M319.33 439.61L323.3 449.66M325.28 454.68L329.28 464.82M323.3 438L327.47 447.96M329.55 452.95L333.75 463M327.24 436.31L331.6 446.19M333.79 451.13L338.19 461.1M331.14 434.54L335.7 444.33M337.98 449.22L342.59 459.1M335.01 432.69L339.77 442.38M342.14 447.23L346.94 457.02M338.84 430.76L343.79 440.36M346.26 445.16L351.26 454.85M342.63 428.76L347.77 438.26M350.34 443.01L355.53 452.59M346.38 426.68L351.71 436.08M354.37 440.77L359.75 450.25M350.08 424.53L355.6 433.81M358.36 438.46L363.93 447.83M353.74 422.3L359.45 431.48M362.3 436.06L368.05 445.32M357.36 420.01L363.24 429.06M366.19 433.59L372.13 442.73M360.93 417.63L366.99 426.57M370.03 431.04L376.15 440.05M364.45 415.19L370.69 424M373.82 428.41L380.12 437.3M367.92 412.68L374.34 421.36M377.55 425.71L384.03 434.47M371.34 410.1L377.93 418.65M381.23 422.93L387.88 431.56M374.71 407.45L381.47 415.87M384.85 420.08L391.68 428.57M378.02 404.73L384.95 413.01M388.42 417.15L395.41 425.51M381.28 401.95L388.38 410.09M391.92 414.16L399.09 422.38M384.48 399.1L391.74 407.1M395.37 411.1L402.69 419.17M387.63 396.19L395.04 404.04M398.75 407.96L406.24 415.89M390.71 393.21L398.28 400.91M402.07 404.76L409.71 412.53M393.74 390.18L401.46 397.72M405.32 401.5L413.12 409.11M396.7 387.08L404.57 394.47M408.51 398.17L416.46 405.63M399.6 383.93L407.62 391.16M411.63 394.77L419.73 402.07M402.44 380.72L410.6 387.78M414.69 391.32L422.93 398.45M405.21 377.45L413.51 384.35M417.67 387.8L426.05 394.77M407.91 374.13L416.36 380.86M420.58 384.23L429.1 391.02M410.55 370.75L419.13 377.31M423.42 380.59L432.07 387.22M413.12 367.32L421.83 373.71M426.18 376.9L434.97 383.35M415.62 363.84L424.45 370.05M428.87 373.16L437.79 379.43M418.05 360.31L427.01 366.35M431.49 369.36L440.53 375.45M420.41 356.73L429.49 362.59M434.02 365.51L443.18 371.42M422.7 353.11L431.89 358.78M436.48 361.62L445.76 367.34M424.91 349.44L434.21 354.93M438.87 357.67L448.25 363.2M427.05 345.73L436.46 351.02M441.17 353.67L450.67 359.02M429.11 341.97L438.63 347.08M443.39 349.63L452.99 354.79M431.1 338.18L440.72 343.09M445.53 345.55L455.23 350.51M433.01 334.34L442.73 339.06M447.58 341.42L457.39 346.19M434.85 330.47L444.66 334.99M449.56 337.26L459.46 341.82M436.61 326.56L446.5 330.89M451.45 333.05L461.43 337.42M438.28 322.62L448.26 326.75M453.25 328.81L463.33 332.98M439.88 318.64L449.94 322.57M454.97 324.53L465.13 328.5M441.4 314.63L451.54 318.36M456.61 320.22L466.84 323.98M442.84 310.6L453.05 314.12M458.15 315.88L468.46 319.43M444.19 306.53L454.47 309.85M459.61 311.5L469.99 314.85M445.47 302.44L455.81 305.55M460.98 307.1L471.42 310.24M446.66 298.32L457.06 301.22M462.27 302.67L472.77 305.6" stroke="#fff" stroke-opacity="0.07" stroke-width="0.5" fill="none"/>
<text x="296.9" y="262.9" font-family="'Liberation Sans', Arial, sans-serif" font-size="14.8" textLength="32.3" lengthAdjust="spacingAndGlyphs" fill="#1a1a1a">0.001</text>
<path d="M299.9 264.6H328.1" stroke="#222" stroke-width="1.3" fill="none"/>
<text x="512.4" y="58.6" font-family="'Liberation Sans', Arial, sans-serif" font-size="19.15" fill="#000">Site of isolation</text>
<circle cx="522.8" cy="77.5" r="3.3" fill="#c0392b"/><circle cx="522.8" cy="98.3" r="3.3" fill="#0072b8"/>
<text x="539.6" y="81.6" font-family="'Liberation Sans', Arial, sans-serif" font-size="14.4" fill="#000">Skin</text>
<text x="539.6" y="102.1" font-family="'Liberation Sans', Arial, sans-serif" font-size="14.4" fill="#000">Throat</text>
<text x="512.4" y="142.9" font-family="'Liberation Sans', Arial, sans-serif" font-size="19.15" fill="#000">Community</text>
<rect x="512.5" y="155" width="20.8" height="20.3" fill="#1a1a1a"/><rect x="512.5" y="175.3" width="20.8" height="20.6" fill="#cccccc"/>
<text x="539.6" y="168.6" font-family="'Liberation Sans', Arial, sans-serif" font-size="14.4" fill="#000">1</text>
<text x="539.6" y="189.2" font-family="'Liberation Sans', Arial, sans-serif" font-size="14.4" fill="#000">3</text>
<text x="512.4" y="230" font-family="'Liberation Sans', Arial, sans-serif" font-size="19.15" fill="#000">Group carbohydrate</text>
<rect x="512.5" y="242.3" width="20.8" height="20.6" fill="#e08a2b"/><rect x="512.5" y="262.9" width="20.8" height="20.5" fill="#6f9bb1"/>
<text x="539.6" y="256.4" font-family="'Liberation Sans', Arial, sans-serif" font-size="14.4" fill="#000">C</text>
<text x="539.6" y="276.9" font-family="'Liberation Sans', Arial, sans-serif" font-size="14.4" fill="#000">G</text>
<text x="512.4" y="314.2" font-family="'Liberation Sans', Arial, sans-serif" font-size="19.15" fill="#000">Bootstrap support</text>
<defs><linearGradient id="bs" x1="0" y1="0" x2="0" y2="1"><stop offset="0" stop-color="#1a1a1a"/><stop offset="1" stop-color="#ff3030"/></linearGradient></defs>
<rect x="511.8" y="329.5" width="21.8" height="105.3" fill="url(#bs)"/>
<path d="M511.8 330.5h4.2M533.6 330.5h-4.2M511.8 356.1h4.2M533.6 356.1h-4.2M511.8 382.2h4.2M533.6 382.2h-4.2M511.8 408.4h4.2M533.6 408.4h-4.2" stroke="#fff" stroke-opacity="0.8" stroke-width="0.7" fill="none"/>
<text x="539.6" y="335.7" font-family="'Liberation Sans', Arial, sans-serif" font-size="14.4" fill="#000">100%</text>
<text x="539.6" y="361.8" font-family="'Liberation Sans', Arial, sans-serif" font-size="14.4" fill="#000">75%</text>
<text x="539.6" y="388.2" font-family="'Liberation Sans', Arial, sans-serif" font-size="14.4" fill="#000">50%</text>
<text x="539.6" y="414.7" font-family="'Liberation Sans', Arial, sans-serif" font-size="14.4" fill="#000">25%</text>
</svg>
</body></html>
